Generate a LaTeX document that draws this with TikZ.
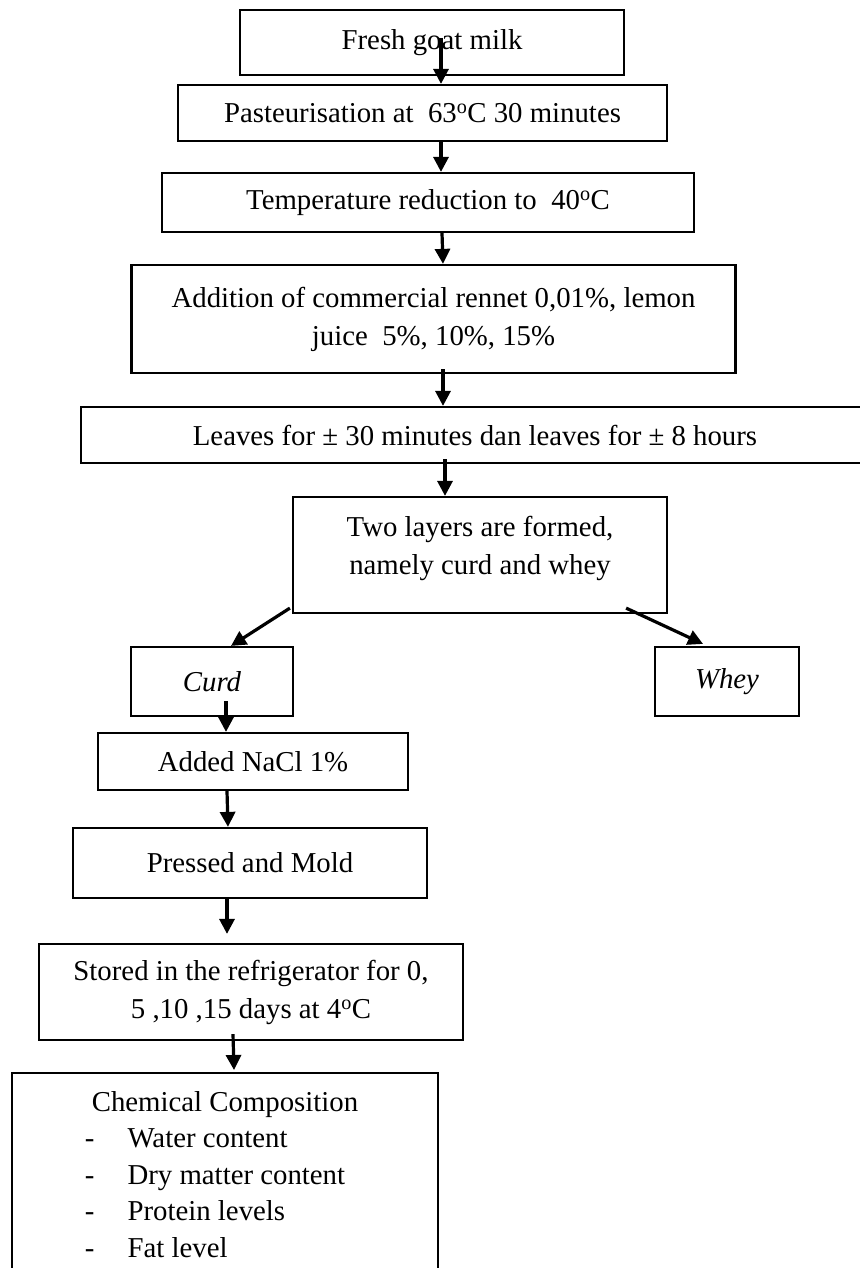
\documentclass[tikz,border=0pt]{standalone}
\usepackage{fontspec}
\setmainfont{Liberation Serif}
\usetikzlibrary{arrows.meta}

\tikzset{
  box/.style={draw, line width=2.2pt, inner sep=0pt, align=center,
    font=\fontsize{28.8}{38}\selectfont},
  arr/.style={-{Triangle[length=15pt,width=15pt]}, line width=3.2pt}
}

\begin{document}
\begin{tikzpicture}[x=1pt, y=-1pt]
  \useasboundingbox (0,0) rectangle (859,1268);
  % process boxes
  \node[box, minimum width=384, minimum height=65] (milk) at (432,42.5) {Fresh goat milk};
  \node[box, minimum width=489, minimum height=56] (past) at (422.5,113) {Pasteurisation at~ 63\textsuperscript{o}C 30 minutes};
  \node[box, minimum width=532, minimum height=59] (temp) at (428,202.5) {Temperature reduction to~ 40\textsuperscript{o}C};
  \node[box, minimum width=604, minimum height=108] (addn) at (433.5,319) {Addition of commercial rennet 0,01\%, lemon\\ juice~ 5\%, 10\%, 15\%};
  \node[box, minimum width=788, minimum height=56] (leave) at (475,435) {Leaves for ± 30 minutes dan leaves for ± 8 hours};
  \node[box, minimum width=374, minimum height=116, text depth=19pt] (layers) at (480,555) {Two layers are formed,\\ namely curd and whey};
  \node[box, minimum width=162, minimum height=69] (curd) at (212,681.5) {\itshape Curd};
  \node[box, minimum width=144, minimum height=69] (whey) at (727,681.5) {\itshape Whey};
  \node[box, minimum width=310, minimum height=57] (nacl) at (253,761.5) {Added NaCl 1\%};
  \node[box, minimum width=354, minimum height=70] (press) at (250,863) {Pressed and Mold};
  \node[box, minimum width=424, minimum height=96] (store) at (251,992) {Stored in the refrigerator for 0,\\ 5 ,10 ,15 days at 4\textsuperscript{o}C};
  \node[box, anchor=north, minimum width=426, inner ysep=18pt, align=left, font=\fontsize{28.8}{36.5}\selectfont] (chem) at (225,1072) {%
    \makebox[426pt]{Chemical Composition}\\
    \hspace*{73pt}-\hspace*{33pt}Water content\\
    \hspace*{73pt}-\hspace*{33pt}Dry matter content\\
    \hspace*{73pt}-\hspace*{33pt}Protein levels\\
    \hspace*{73pt}-\hspace*{33pt}Fat level\\[30pt]};
  % arrows
  \draw[arr] ([xshift=9pt, yshift=4.5pt]milk.center) -- ([xshift=18.5pt]past.north);
  \draw[arr] ([xshift=18.5pt]past.south) -- ([xshift=13pt]temp.north);
  \draw[arr] ([xshift=14pt]temp.south) -- ([xshift=9.5pt]addn.north);
  \draw[arr] ([xshift=9.5pt, yshift=5pt]addn.south) -- ([xshift=-32pt]leave.north);
  \draw[arr] ([xshift=-30pt, yshift=5pt]leave.south) -- ([xshift=-35pt]layers.north);
  \draw[arr] ([xshift=-2pt, yshift=6pt]layers.south west) -- ([xshift=19pt]curd.north);
  \draw[arr] ([xshift=-42pt, yshift=6pt]layers.south east) -- ([xshift=-24pt, yshift=2pt]whey.north);
  \draw[arr] ([xshift=14pt, yshift=16pt]curd.south) -- ([xshift=-27pt]nacl.north);
  \draw[arr] ([xshift=-26pt]nacl.south) -- ([xshift=-22pt]press.north);
  \draw[arr] ([xshift=-23pt]press.south) -- ([xshift=-24pt, yshift=9pt]store.north);
  \draw[arr] ([xshift=-18pt, yshift=7pt]store.south) -- ([xshift=9pt, yshift=2pt]chem.north);
\end{tikzpicture}
\end{document}
